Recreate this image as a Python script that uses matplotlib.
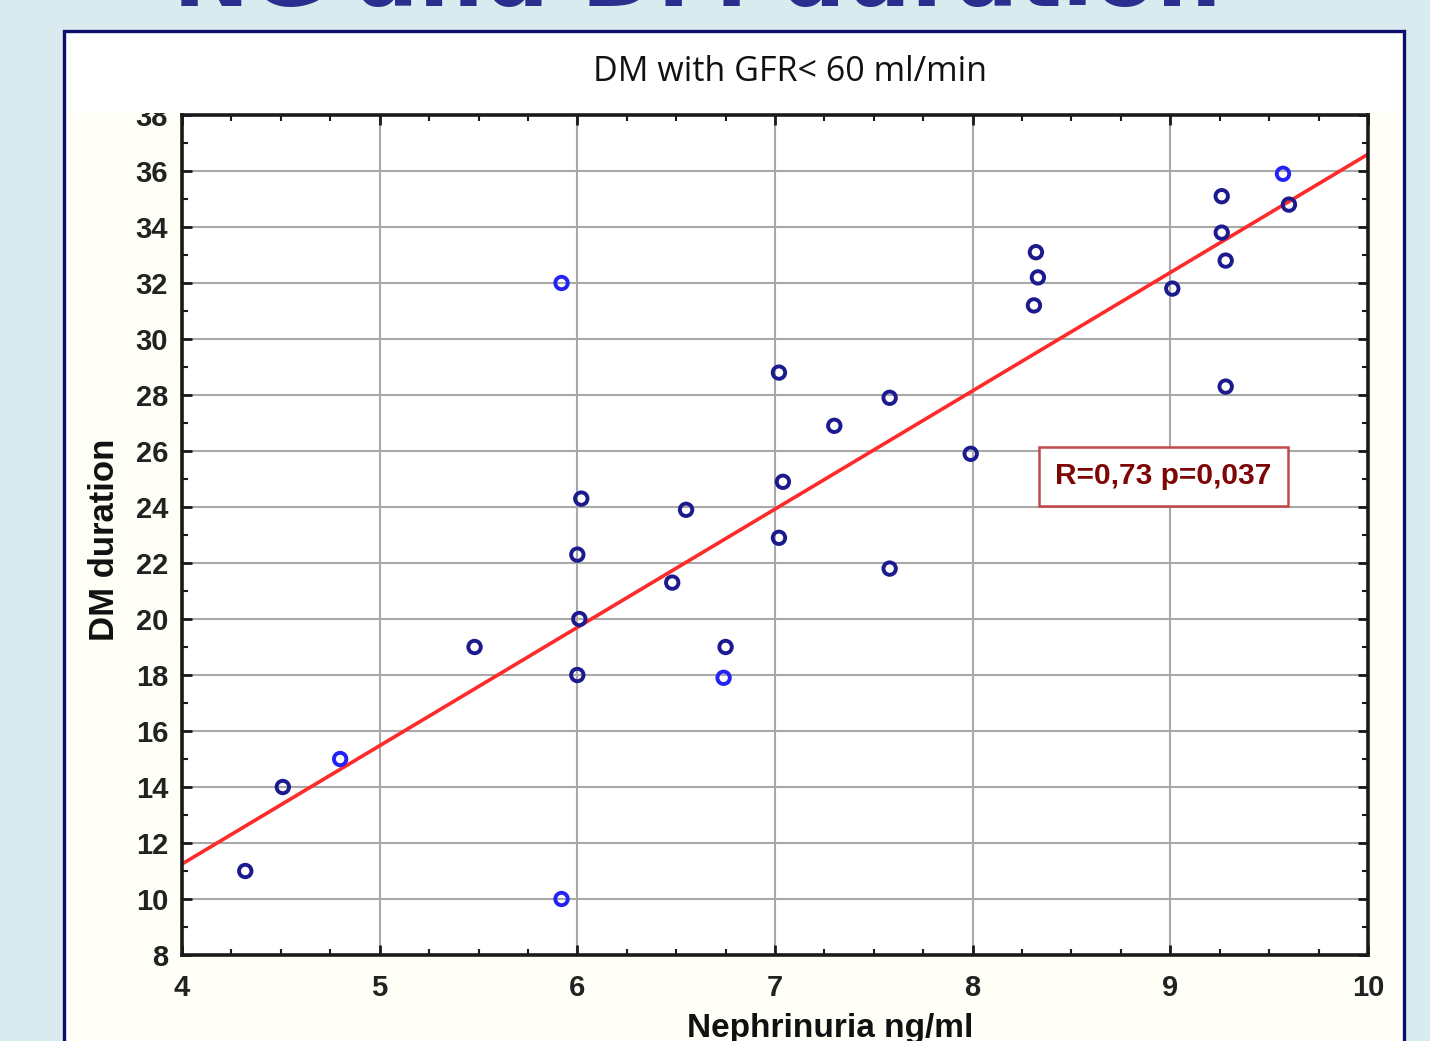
import matplotlib
matplotlib.use("Agg")
import matplotlib.pyplot as plt
from matplotlib.patches import Rectangle
from matplotlib.ticker import MultipleLocator
import numpy as np

# ---- data ----
nephrinuria = [4.32, 4.51, 4.80, 5.48, 5.92, 5.92, 6.02, 6.00, 6.01, 6.00,
               6.48, 6.55, 6.75, 6.74, 7.02, 7.04, 7.02, 7.30, 7.58, 7.58,
               7.99, 8.32, 8.33, 8.31, 9.01, 9.26, 9.26, 9.28, 9.28, 9.57, 9.60]
dm_duration = [11.0, 14.0, 15.0, 19.0, 32.0, 10.0, 24.3, 22.3, 20.0, 18.0,
               21.3, 23.9, 19.0, 17.9, 28.8, 24.9, 22.9, 26.9, 27.9, 21.8,
               25.9, 33.1, 32.2, 31.2, 31.8, 35.1, 33.8, 32.8, 28.3, 35.9, 34.8]
highlight = [0, 0, 1, 0, 1, 1, 0, 0, 0, 0,
             0, 0, 0, 1, 0, 0, 0, 0, 0, 0,
             0, 0, 0, 0, 0, 0, 0, 0, 0, 1, 0]
fit_x = [4.0, 10.0]
fit_y = [11.25, 36.6]
x_ticks = [4, 5, 6, 7, 8, 9, 10]
y_ticks = [8, 10, 12, 14, 16, 18, 20, 22, 24, 26, 28, 30, 32, 34, 36, 38]
title = "DM with GFR< 60 ml/min"
slide_title = "NG and DM duration"
xlabel = "Nephrinuria ng/ml"
ylabel = "DM duration"
stat_text = "R=0,73 p=0,037"

W, H = 1430, 1041
fig = plt.figure(figsize=(W / 100, H / 100), dpi=100)
fig.patch.set_facecolor("#d9ebef")

def fx(px):
    return px / W

def fy(py):
    return 1 - py / H

# slide title (mostly cut off)
fig.text(fx(697), fy(6), slide_title, ha="center", va="baseline",
         fontsize=66, fontweight="bold", color="#2b2d8f",
         family=["DejaVu Sans"], zorder=0)

# white panel with navy border
panel = Rectangle((fx(64), -0.1), fx(1404) - fx(64), fy(31) + 0.1,
                  transform=fig.transFigure, facecolor="#fffef7",
                  edgecolor="#0d0d6b", linewidth=2.4, zorder=-1)
fig.patches.append(panel)

ax = fig.add_axes([fx(182), fy(955), fx(1368) - fx(182), fy(115) - fy(955)])
ax.set_facecolor("white")
ax.set_xlim(4, 10)
ax.set_ylim(8, 38)
ax.set_xticks(x_ticks)
ax.set_yticks(y_ticks)
ax.xaxis.set_minor_locator(MultipleLocator(0.25))
ax.yaxis.set_minor_locator(MultipleLocator(1))
ax.grid(True, which="major", color="#a8a8a8", linewidth=1.5)
ax.set_axisbelow(True)
for s in ax.spines.values():
    s.set_linewidth(2.6)
    s.set_color("#1a1a1a")
ax.tick_params(which="both", direction="in", top=True, right=True, color="#1a1a1a")
ax.tick_params(which="major", length=7, width=2)
ax.tick_params(which="minor", length=4, width=1.5)
tick_font = dict(family=["Liberation Sans Narrow", "Liberation Sans", "DejaVu Sans"],
                 weight="bold", size=21)
ax.set_xticklabels([str(v) for v in x_ticks], **tick_font, color="#222222")
ax.set_yticklabels([str(v) for v in y_ticks], **tick_font, color="#222222")
ax.tick_params(axis="x", which="major", pad=14)
ax.tick_params(axis="y", which="major", pad=10)

ax.plot(fit_x, fit_y, color="#ff2a2a", linewidth=2.6, zorder=2)
colors = ["#2323f5" if h else "#1b1b8f" for h in highlight]
ax.scatter(nephrinuria, dm_duration, s=80, facecolors="none",
           edgecolors=colors, linewidths=2.8, zorder=3)

# stats box
bx0 = (1039 - 182) / 1186
by0 = (955 - 506) / 840
bw = 249 / 1186
bh = 59 / 840
ax.add_patch(Rectangle((bx0, by0), bw, bh, transform=ax.transAxes,
                       facecolor="white", edgecolor="#c04848", linewidth=1.8, zorder=4))
ax.text(bx0 + bw / 2, by0 + bh / 2, stat_text, transform=ax.transAxes,
        ha="center", va="center", fontsize=21.5, fontweight="bold",
        color="#7d0606", family=["Liberation Sans Narrow", "Liberation Sans"], zorder=5)

# cover the top strip (hides upper half of the top tick label)
cover = Rectangle((fx(67), fy(113)), fx(1401) - fx(67), fy(34) - fy(113),
                  transform=fig.transFigure, facecolor="white",
                  edgecolor="none", zorder=1)
fig.patches.append(cover)

fig.text(fx(790), fy(72), title, ha="center", va="center", fontsize=24.5,
         family=["Open Sans"], color="#111111", zorder=2)

fig.text(fx(105), fy(540), ylabel, ha="center", va="center", rotation=90,
         fontsize=25, fontweight="bold", family=["Liberation Sans Narrow", "Liberation Sans"],
         color="#111111", zorder=2)
fig.text(fx(830), fy(1029), xlabel, ha="center", va="center",
         fontsize=24, fontweight="bold", family=["Liberation Sans Narrow", "Liberation Sans"],
         color="#111111", zorder=2)

fig.savefig("out.png", dpi=100, facecolor=fig.get_facecolor())
